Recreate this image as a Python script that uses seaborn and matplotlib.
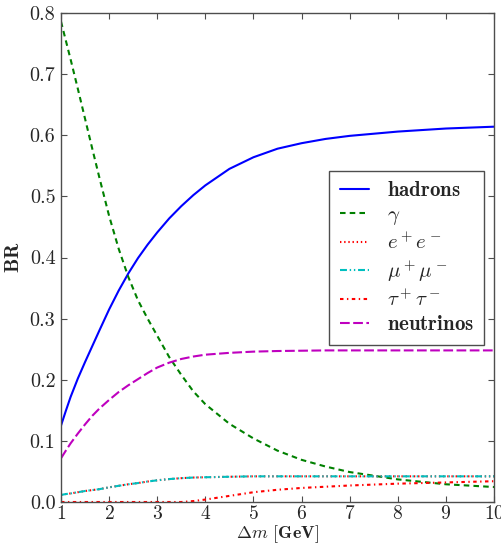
import matplotlib
matplotlib.use('Agg')
import matplotlib.pyplot as plt
import pandas as pd
import seaborn as sns

# ── data ─────────────────────────────────────────────────────────────────────
dm = [1, 1.1, 1.2, 1.35, 1.5, 1.65, 1.8, 2, 2.2, 2.4, 2.6, 2.8, 3, 3.25, 3.5,
      3.75, 4, 4.5, 5, 5.5, 6, 6.5, 7, 8, 9, 10]

br_hadrons   = [0.125, 0.149, 0.172, 0.202, 0.229, 0.255, 0.281, 0.315, 0.346, 0.374,
                0.399, 0.421, 0.441, 0.464, 0.484, 0.502, 0.518, 0.545, 0.564, 0.578,
                0.587, 0.594, 0.599, 0.606, 0.611, 0.614]
br_gamma     = [0.786, 0.755, 0.724, 0.676, 0.627, 0.578, 0.530, 0.468, 0.414, 0.368,
                0.330, 0.300, 0.272, 0.237, 0.208, 0.181, 0.160, 0.128, 0.104, 0.084,
                0.069, 0.058, 0.049, 0.037, 0.029, 0.0245]
br_ee        = [0.0115, 0.013, 0.014, 0.016, 0.018, 0.0195, 0.021, 0.024, 0.0265, 0.029,
                0.031, 0.0335, 0.0355, 0.0375, 0.039, 0.040, 0.0405, 0.0413, 0.042, 0.042,
                0.042, 0.042, 0.042, 0.042, 0.042, 0.042]
br_mumu      = [0.0115, 0.013, 0.014, 0.016, 0.018, 0.0195, 0.021, 0.024, 0.0265, 0.029,
                0.031, 0.0335, 0.0355, 0.0375, 0.039, 0.040, 0.0405, 0.0413, 0.042, 0.042,
                0.042, 0.042, 0.042, 0.042, 0.042, 0.042]
br_tautau    = [0.0, 0.0, 0.0, 0.0, 0.0, 0.0, 0.0, 0.0, 0.0, 0.0,
                0.0, 0.0, 0.0, 0.0, 0.0, 0.0015, 0.004, 0.010, 0.016, 0.020,
                0.023, 0.025, 0.027, 0.030, 0.032, 0.034]
br_neutrinos = [0.0715, 0.084, 0.096, 0.112, 0.127, 0.141, 0.153, 0.167, 0.180, 0.191,
                0.201, 0.211, 0.220, 0.228, 0.234, 0.238, 0.241, 0.244, 0.246, 0.247,
                0.2475, 0.248, 0.248, 0.248, 0.248, 0.248]

channels = [r'$\mathbf{hadrons}$', r'$\gamma$', r'$e^+e^-$',
            r'$\mu^+\mu^-$', r'$\tau^+\tau^-$', r'$\mathbf{neutrinos}$']
series = [br_hadrons, br_gamma, br_ee, br_mumu, br_tautau, br_neutrinos]

colors = ['b', 'g', 'r', 'c', 'r', 'm']
dashes = ['', (4, 3), (1, 2), (5, 2, 1, 2, 1, 2), (2.5, 2.5, 1, 2.5), (7, 2.5)]

df = pd.concat([pd.DataFrame({'dm': dm, 'BR': vals, 'channel': ch})
                for ch, vals in zip(channels, series)], ignore_index=True)

# ── style ────────────────────────────────────────────────────────────────────
sns.set_style('ticks')
plt.rcParams['font.family'] = ['cmr10']
plt.rcParams['mathtext.fontset'] = 'cm'
plt.rcParams['axes.formatter.use_mathtext'] = True
plt.rcParams['lines.scale_dashes'] = False
plt.rcParams['axes.edgecolor'] = '0.3'
plt.rcParams['axes.linewidth'] = 1.0

fig = plt.figure(figsize=(5.02, 5.45), dpi=100)
ax = fig.add_axes([61 / 502, 43 / 545, 433 / 502, 489 / 545])

sns.lineplot(data=df, x='dm', y='BR', hue='channel', style='channel',
             hue_order=channels, style_order=channels,
             palette=dict(zip(channels, colors)),
             dashes=dict(zip(channels, dashes)),
             linewidth=1.5, ax=ax)

ax.set_xlim(1, 10)
ax.set_ylim(0, 0.8)
ax.set_xticks(range(1, 11))
ax.set_yticks([0.0, 0.1, 0.2, 0.3, 0.4, 0.5, 0.6, 0.7, 0.8])
ax.set_yticklabels([f'{v:.1f}' for v in ax.get_yticks()])
ax.tick_params(direction='in', top=True, right=True, length=4,
               width=0.8, color='0.3', labelsize=14.5, pad=4)
ax.tick_params(axis='x', labelsize=14, pad=2.5)

ax.set_xlabel(r'$\Delta m$ $\mathbf{[GeV]}$', fontsize=13, labelpad=0)
ax.set_ylabel(r'$\mathbf{BR}$', fontsize=14.5, labelpad=5)

handles, labels = ax.get_legend_handles_labels()
leg = ax.legend(handles, labels, loc='upper right', bbox_to_anchor=(0.977, 0.677),
                borderaxespad=0, fontsize=15, handlelength=1.4, handletextpad=0.85,
                labelspacing=0.25, borderpad=0.5,
                fancybox=False, framealpha=1, edgecolor='0.3')
leg.get_frame().set_linewidth(1.0)

fig.savefig('out.png', dpi=100)
